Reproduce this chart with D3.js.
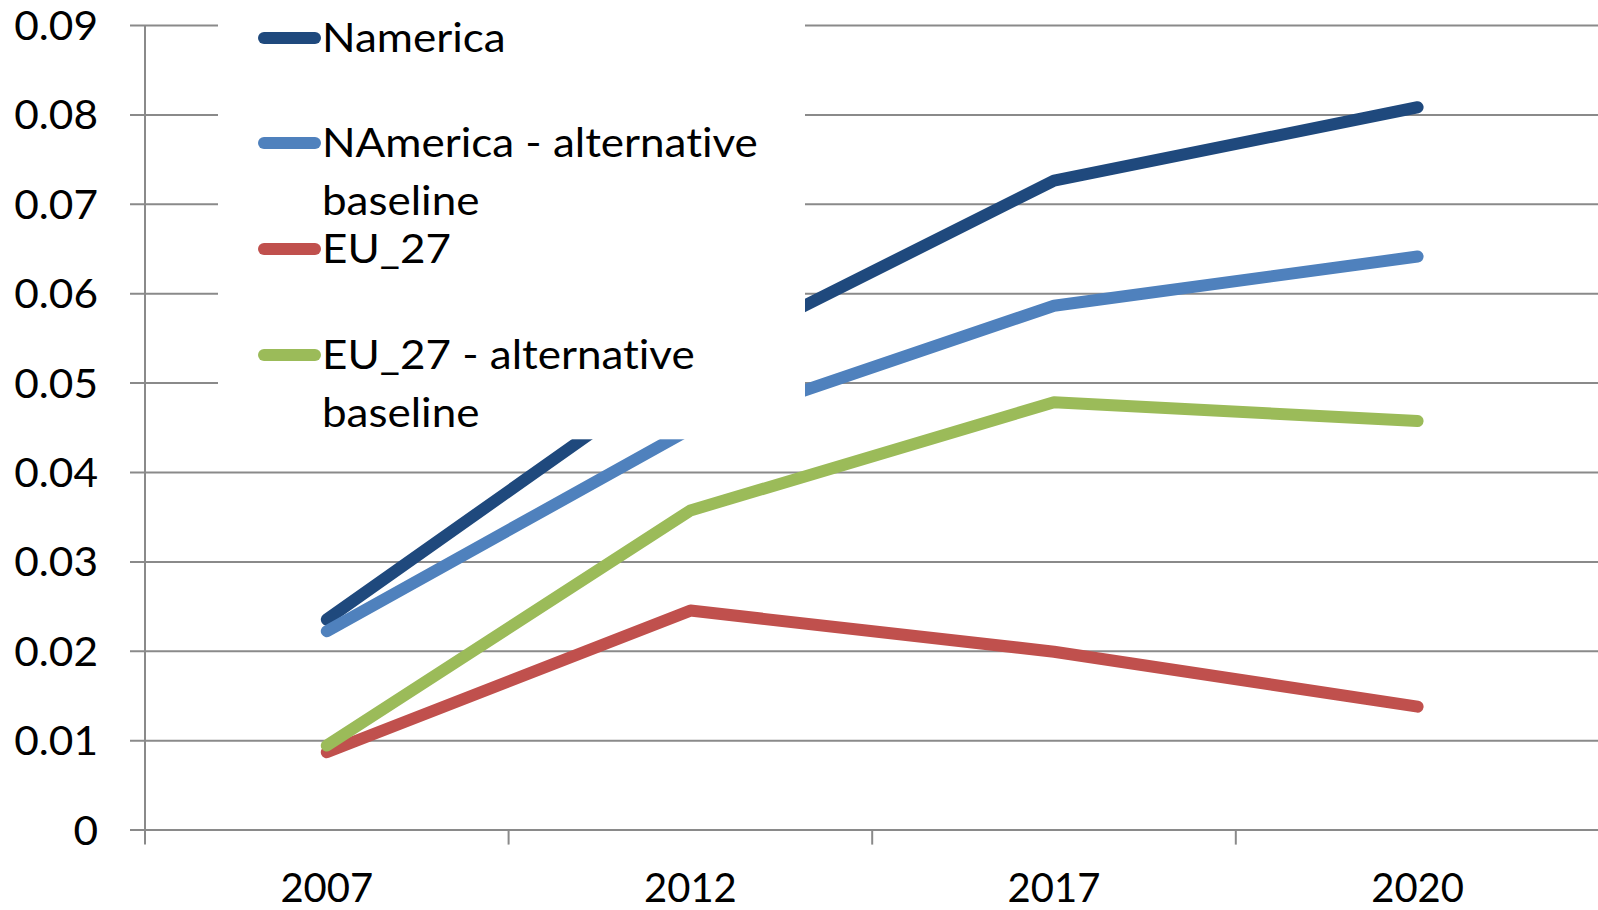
<!DOCTYPE html>
<html>
<head>
<meta charset="utf-8">
<script src="https://cdn.jsdelivr.net/npm/d3@7/dist/d3.min.js"></script>
<style>
  html, body { margin: 0; padding: 0; background: #ffffff; }
  svg { display: block; }
  text {
    font-family: Lato, "Open Sans", sans-serif;
    fill: #000;
    font-variant-ligatures: none;
    font-feature-settings: "liga" 0, "clig" 0;
  }
</style>
</head>
<body>
<svg id="chart" width="1598" height="910"></svg>
<script>
// Years on the category axis
const categories = ["2007", "2012", "2017", "2020"];

// Series values per year
const namerica    = [0.0235, 0.0522, 0.0726, 0.0808];
const namericaAlt = [0.0222, 0.0448, 0.0586, 0.0641];
const eu27        = [0.00865, 0.0245, 0.0199, 0.01375];
const eu27Alt     = [0.0094, 0.0357, 0.0478, 0.0457];

// Series names (legend text, split into lines)
const seriesNames = [
  ["Namerica"],
  ["NAmerica - alternative", "baseline"],
  ["EU_27"],
  ["EU_27 - alternative", "baseline"]
];

// Value-axis ticks
const yTicks = [0, 0.01, 0.02, 0.03, 0.04, 0.05, 0.06, 0.07, 0.08, 0.09];

const colors = ["#1f497d", "#4f81bd", "#c0504d", "#9bbb59"];
const seriesValues = [namerica, namericaAlt, eu27, eu27Alt];

const svg = d3.select("#chart");

const plot = { left: 145, right: 1599.4, top: 25, bottom: 829.6 };

const x = d3.scaleBand()
  .domain(categories)
  .range([plot.left, plot.right])
  .paddingInner(0).paddingOuter(0);

const y = d3.scaleLinear()
  .domain([0, 0.09])
  .range([plot.bottom, plot.top]);

const gridColor = "#8a8a8a";

// Horizontally widen a text element about a fixed anchor x
function widen(sel, anchorX, sx) {
  sel.attr("transform", `translate(${anchorX},0) scale(${sx},1) translate(${-anchorX},0)`);
}

// Horizontal gridlines with left tick marks
const yAxis = d3.axisLeft(y)
  .tickValues(yTicks)
  .tickSize(-(1598 - plot.left))
  .tickPadding(0)
  .tickFormat(d => d === 0 ? "0" : d3.format(".2f")(d));

const gy = svg.append("g")
  .attr("transform", `translate(${plot.left},0)`)
  .call(yAxis);
gy.select(".domain").remove();
gy.selectAll(".tick line")
  .attr("x1", -15)
  .attr("stroke", gridColor)
  .attr("stroke-width", 2);
gy.selectAll(".tick text")
  .attr("x", -47)
  .attr("dy", "14.5")
  .attr("text-anchor", "end")
  .style("font-size", "40px")
  .attr("fill", "#000")
  .each(function () { widen(d3.select(this), -47, 1.06); });

// Vertical value axis line
svg.append("line")
  .attr("x1", plot.left).attr("x2", plot.left)
  .attr("y1", plot.top).attr("y2", plot.bottom + 15)
  .attr("stroke", gridColor).attr("stroke-width", 2);

// Category axis: tick marks at band boundaries, labels at band centres
const xBoundaries = categories.map(c => x(c)).slice(1);
svg.append("g").selectAll("line")
  .data(xBoundaries)
  .join("line")
  .attr("x1", d => d).attr("x2", d => d)
  .attr("y1", plot.bottom).attr("y2", plot.bottom + 15)
  .attr("stroke", gridColor).attr("stroke-width", 2);

svg.append("g").selectAll("text")
  .data(categories)
  .join("text")
  .attr("x", d => x(d) + x.bandwidth() / 2)
  .attr("y", 902)
  .attr("text-anchor", "middle")
  .style("font-size", "40px")
  .text(d => d);

// Series lines
const line = d3.line()
  .x((d, i) => x(categories[i]) + x.bandwidth() / 2)
  .y(d => y(d));

svg.append("g").selectAll("path")
  .data(seriesValues)
  .join("path")
  .attr("d", d => line(d))
  .attr("fill", "none")
  .attr("stroke", (d, i) => colors[i])
  .attr("stroke-width", 12)
  .attr("stroke-linecap", "round")
  .attr("stroke-linejoin", "round");

// Legend box (opaque, sits over the plot)
const legend = svg.append("g");
legend.append("rect")
  .attr("x", 218).attr("y", 0)
  .attr("width", 805 - 218).attr("height", 439.3)
  .attr("fill", "#ffffff");

const legendBaselines = [52, 157, 263, 369];
const legendLineGap = 58;
const legendTextX = 322;

seriesNames.forEach((lines, i) => {
  const base = legendBaselines[i];
  legend.append("line")
    .attr("x1", 264).attr("x2", 315)
    .attr("y1", base - 14).attr("y2", base - 14)
    .attr("stroke", colors[i])
    .attr("stroke-width", 12)
    .attr("stroke-linecap", "round");
  const t = legend.append("text")
    .attr("x", legendTextX).attr("y", base)
    .style("font-size", "40px");
  lines.forEach((s, k) => {
    t.append("tspan")
      .attr("x", legendTextX)
      .attr("y", base + k * legendLineGap)
      .text(s);
  });
  widen(t, legendTextX, 1.1);
});
</script>
</body>
</html>
